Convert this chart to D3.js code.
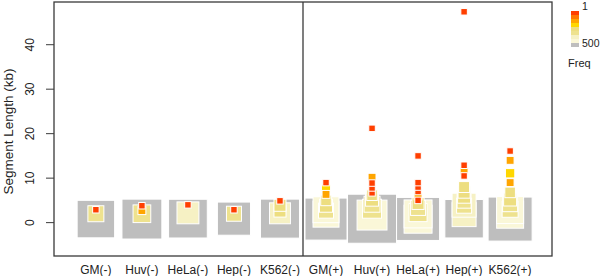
<!DOCTYPE html>
<html>
<head>
<meta charset="utf-8">
<script src="https://cdn.jsdelivr.net/npm/d3@7/dist/d3.min.js"></script>
<style>
body { margin: 0; background: #fff; }
svg { display: block; font-family: "Liberation Sans", Arial, sans-serif; }
</style>
</head>
<body>
<div class="chart"></div>
<script>
var w = 600;
var h = 276;

var categories = ["GM(-)", "Huv(-)", "HeLa(-)", "Hep(-)", "K562(-)",
                  "GM(+)", "Huv(+)", "HeLa(+)", "Hep(+)", "K562(+)"];

// segment length (kb) of each plotted square, per category
var segLength = [
    [0.8, 2.0, 2.9],
    [0.8, 2.0, 2.7, 3.8],
    [0.9, 2.2, 4.0],
    [0.9, 2.0, 2.9],
    [0.9, 2.1, 2.6, 3.9, 4.9],
    [0.8, 1.9, 2.9, 2.7, 3.8, 5.0, 6.35, 7.6, 9.0],
    [0.88, 1.7, 3.13, 4.14, 5.16, 6.17, 6.7, 7.8, 8.9, 10.2, 21.2],
    [0.83, 0.77, 1.96, 2.25, 3.31, 4.32, 5.0, 6.0, 7.0, 8.0, 9.0, 15.0],
    [0.88, 1.8, 3.92, 3.81, 4.82, 5.83, 6.85, 8.0, 10.5, 11.6, 12.9, 47.4],
    [0.8, 1.78, 2.82, 3.0, 4.15, 5.2, 6.8, 9.0, 11.1, 14.0, 16.1]
];

// frequency of each square
var segFreq = [
    [520, 59, 1],
    [600, 79, 4, 1],
    [560, 140, 1],
    [390, 49, 1],
    [570, 125, 24, 24, 1],
    [676, 216, 216, 49, 31, 15, 4, 8, 1],
    [957, 306, 96, 59, 31, 15, 1, 1, 1, 4, 1],
    [713, 260, 260, 83, 49, 24, 1, 4, 1, 1, 1, 1],
    [552, 177, 177, 49, 39, 31, 24, 17, 1, 4, 1, 1],
    [751, 238, 238, 59, 49, 31, 15, 4, 9, 4, 1]
];

var yTicks = [0, 10, 20, 30, 40];
var freqBreaks = [2, 4, 8, 14, 35, 120, 200, 350];
var freqColors = ["#ff3f00", "#ff7800", "#ffa500", "#ffd700", "#edde80",
                  "#eee28e", "#f6f1c4", "#faf7d8", "#bebebe"];
var legendLabels = ["1", "500"];

var x = d3.scaleLinear().domain([0.09, 10.91]).range([54, 552]);
var y = d3.scaleLinear().domain([-7.5, 49.6]).range([256, 2]);
var side = d3.scaleSqrt().domain([1, 1000]).range([6.5, 50]);
var color = d3.scaleThreshold().domain(freqBreaks).range(freqColors);

var svg = d3.select(".chart")
            .append("svg")
            .attr("width", w)
            .attr("height", h);

var points = [];
for (let i = 0; i < categories.length; i++) {
    for (let j = 0; j < segLength[i].length; j++) {
        points.push({cat: i, len: segLength[i][j], freq: segFreq[i][j]});
    }
}
// big squares first, small ones on top
points.sort(function(a, b) {
    return (b.freq - a.freq) || (a.len - b.len);
});

svg.selectAll("rect.bin")
    .data(points)
    .enter()
    .append("rect")
    .attr("class", "bin")
    .attr("x", function(d) { return x(d.cat + 1) - side(d.freq) / 2; })
    .attr("y", function(d) { return y(d.len) - side(d.freq) / 2; })
    .attr("width", function(d) { return side(d.freq); })
    .attr("height", function(d) { return side(d.freq); })
    .style("fill", function(d) { return color(d.freq); })
    .style("stroke", "#fff")
    .style("stroke-width", 1);

// plot box and divider
svg.append("rect")
    .attr("x", x.range()[0])
    .attr("y", y.range()[1])
    .attr("width", x.range()[1] - x.range()[0])
    .attr("height", y.range()[0] - y.range()[1])
    .style("fill", "none")
    .style("stroke", "#3a3a3a")
    .style("stroke-width", 1.3);

svg.append("line")
    .attr("x1", x(5.5)).attr("x2", x(5.5))
    .attr("y1", y.range()[1]).attr("y2", y.range()[0])
    .style("stroke", "#3a3a3a")
    .style("stroke-width", 1.3);

// y axis
svg.selectAll("line.ytick")
    .data(yTicks)
    .enter()
    .append("line")
    .attr("class", "ytick")
    .attr("x1", 46).attr("x2", 54)
    .attr("y1", function(d) { return y(d); })
    .attr("y2", function(d) { return y(d); })
    .style("stroke", "#3a3a3a");

svg.selectAll("text.ylab")
    .data(yTicks)
    .enter()
    .append("text")
    .attr("class", "ylab")
    .attr("transform", function(d) { return "translate(30," + y(d) + ") rotate(-90)"; })
    .attr("text-anchor", "middle")
    .attr("dy", "0.35em")
    .style("font-size", "12px")
    .style("fill", "#222")
    .text(function(d) { return d; });

svg.append("text")
    .attr("transform", "translate(8," + y(20.5) + ") rotate(-90)")
    .attr("text-anchor", "middle")
    .attr("dy", "0.35em")
    .style("font-size", "13.5px")
    .style("fill", "#222")
    .text("Segment Length (kb)");

// x labels
svg.selectAll("text.xlab")
    .data(categories)
    .enter()
    .append("text")
    .attr("class", "xlab")
    .attr("x", function(d, i) { return x(i + 1); })
    .attr("y", 274)
    .attr("text-anchor", "middle")
    .style("font-size", "12px")
    .style("fill", "#222")
    .text(function(d) { return d; });

// legend
svg.selectAll("rect.key")
    .data(freqColors)
    .enter()
    .append("rect")
    .attr("class", "key")
    .attr("x", 571)
    .attr("y", function(d, i) { return 11 + i * 4; })
    .attr("width", 8)
    .attr("height", 4)
    .style("fill", function(d) { return d; });

svg.selectAll("text.keylab")
    .data(legendLabels)
    .enter()
    .append("text")
    .attr("class", "keylab")
    .attr("x", 582)
    .attr("y", function(d, i) { return i == 0 ? 10 : 47; })
    .style("font-size", "10.5px")
    .style("fill", "#222")
    .text(function(d) { return d; });

svg.append("text")
    .attr("x", 568)
    .attr("y", 67)
    .style("font-size", "11px")
    .style("fill", "#222")
    .text("Freq");
</script>
</body>
</html>
